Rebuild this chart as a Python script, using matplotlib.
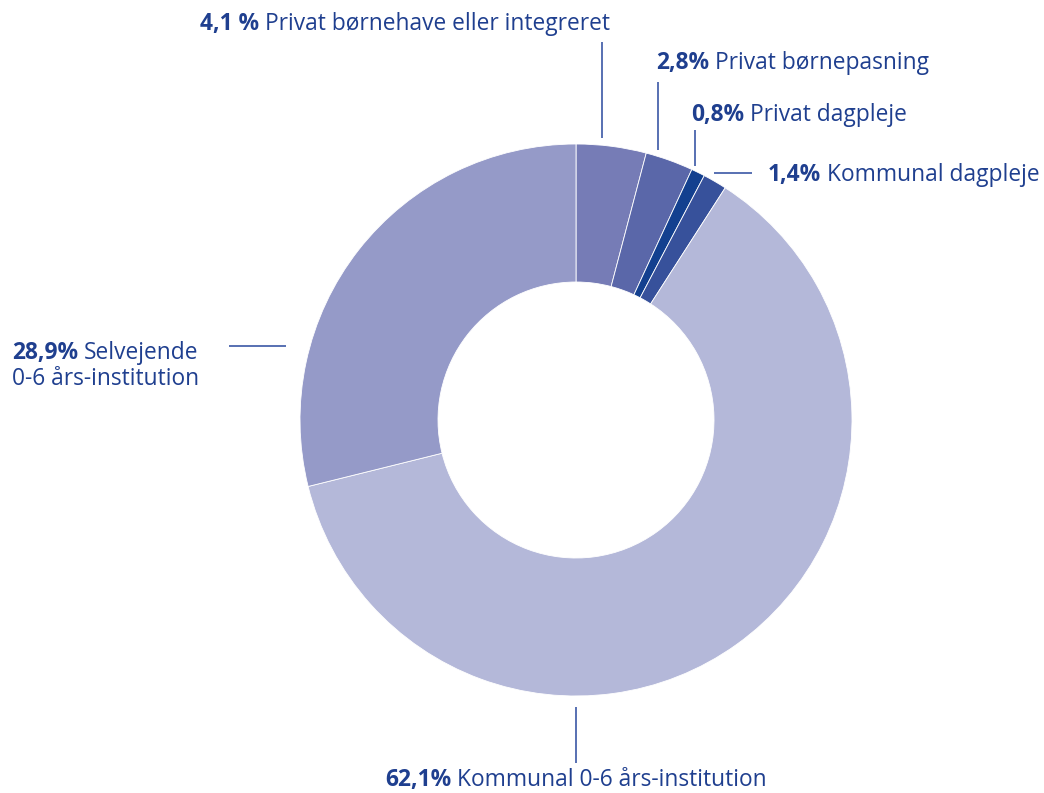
import matplotlib.pyplot as plt

# data (clockwise from 12 o'clock)
labels = ['Privat børnehave eller integreret', 'Privat børnepasning', 'Privat dagpleje',
          'Kommunal dagpleje', 'Kommunal 0-6 års-institution', 'Selvejende\n0-6 års-institution']
pct_text = ['4,1 %', '2,8%', '0,8%', '1,4%', '62,1%', '28,9%']
values = [4.1, 2.8, 0.8, 1.4, 62.1, 28.9]
colors = ['#767cb6', '#5a67a9', '#13408f', '#37519b', '#b4b8d9', '#959ac8']

W, H = 1044, 793
txt_col = '#1f3f8f'
line_col = '#4a65ad'
plt.rcParams['font.family'] = ['Open Sans', 'DejaVu Sans']

fig = plt.figure(figsize=(W / 100, H / 100), dpi=100)
ax = fig.add_axes([0, 0, 1, 1])

cx, cy, r = 576, H - 420, 276
ax.pie(values, colors=colors, startangle=90, counterclock=False,
       center=(cx, cy), radius=r,
       wedgeprops=dict(width=138, edgecolor='white', linewidth=0.6))
ax.set_xlim(0, W)
ax.set_ylim(0, H)
ax.set_aspect('auto')
ax.axis('off')

# label layout: (left x, centre y from top)
pos = [(200, 24), (656, 63), (691, 115), (768, 175), (385, 780), (12, 353)]
# leader lines in pixel coords from top: (x0, y0, x1, y1)
leaders = [(602, 42, 602, 138), (658, 82, 658, 150), (695, 130, 695, 166),
           (714, 173, 752, 173), (576, 707, 576, 763), (229, 346, 286, 346)]

fig.canvas.draw()
renderer = fig.canvas.get_renderer()
fs = 16.4
for (x, y), p, lab in zip(pos, pct_text, labels):
    first, _, second = lab.partition('\n')
    t = ax.text(x, H - y, p, fontsize=fs, fontweight='bold', color=txt_col,
                ha='left', va='center')
    bb = t.get_window_extent(renderer)
    ax.text(bb.x1 + 6, H - y, first, fontsize=fs, color=txt_col, ha='left', va='center')
    if second:
        ax.text(x, H - y - 26, second, fontsize=fs, color=txt_col, ha='left', va='center')

for x0, y0, x1, y1 in leaders:
    ax.plot([x0, x1], [H - y0, H - y1], color=line_col, lw=1.3, solid_capstyle='butt')

fig.savefig('out.png', dpi=100)
